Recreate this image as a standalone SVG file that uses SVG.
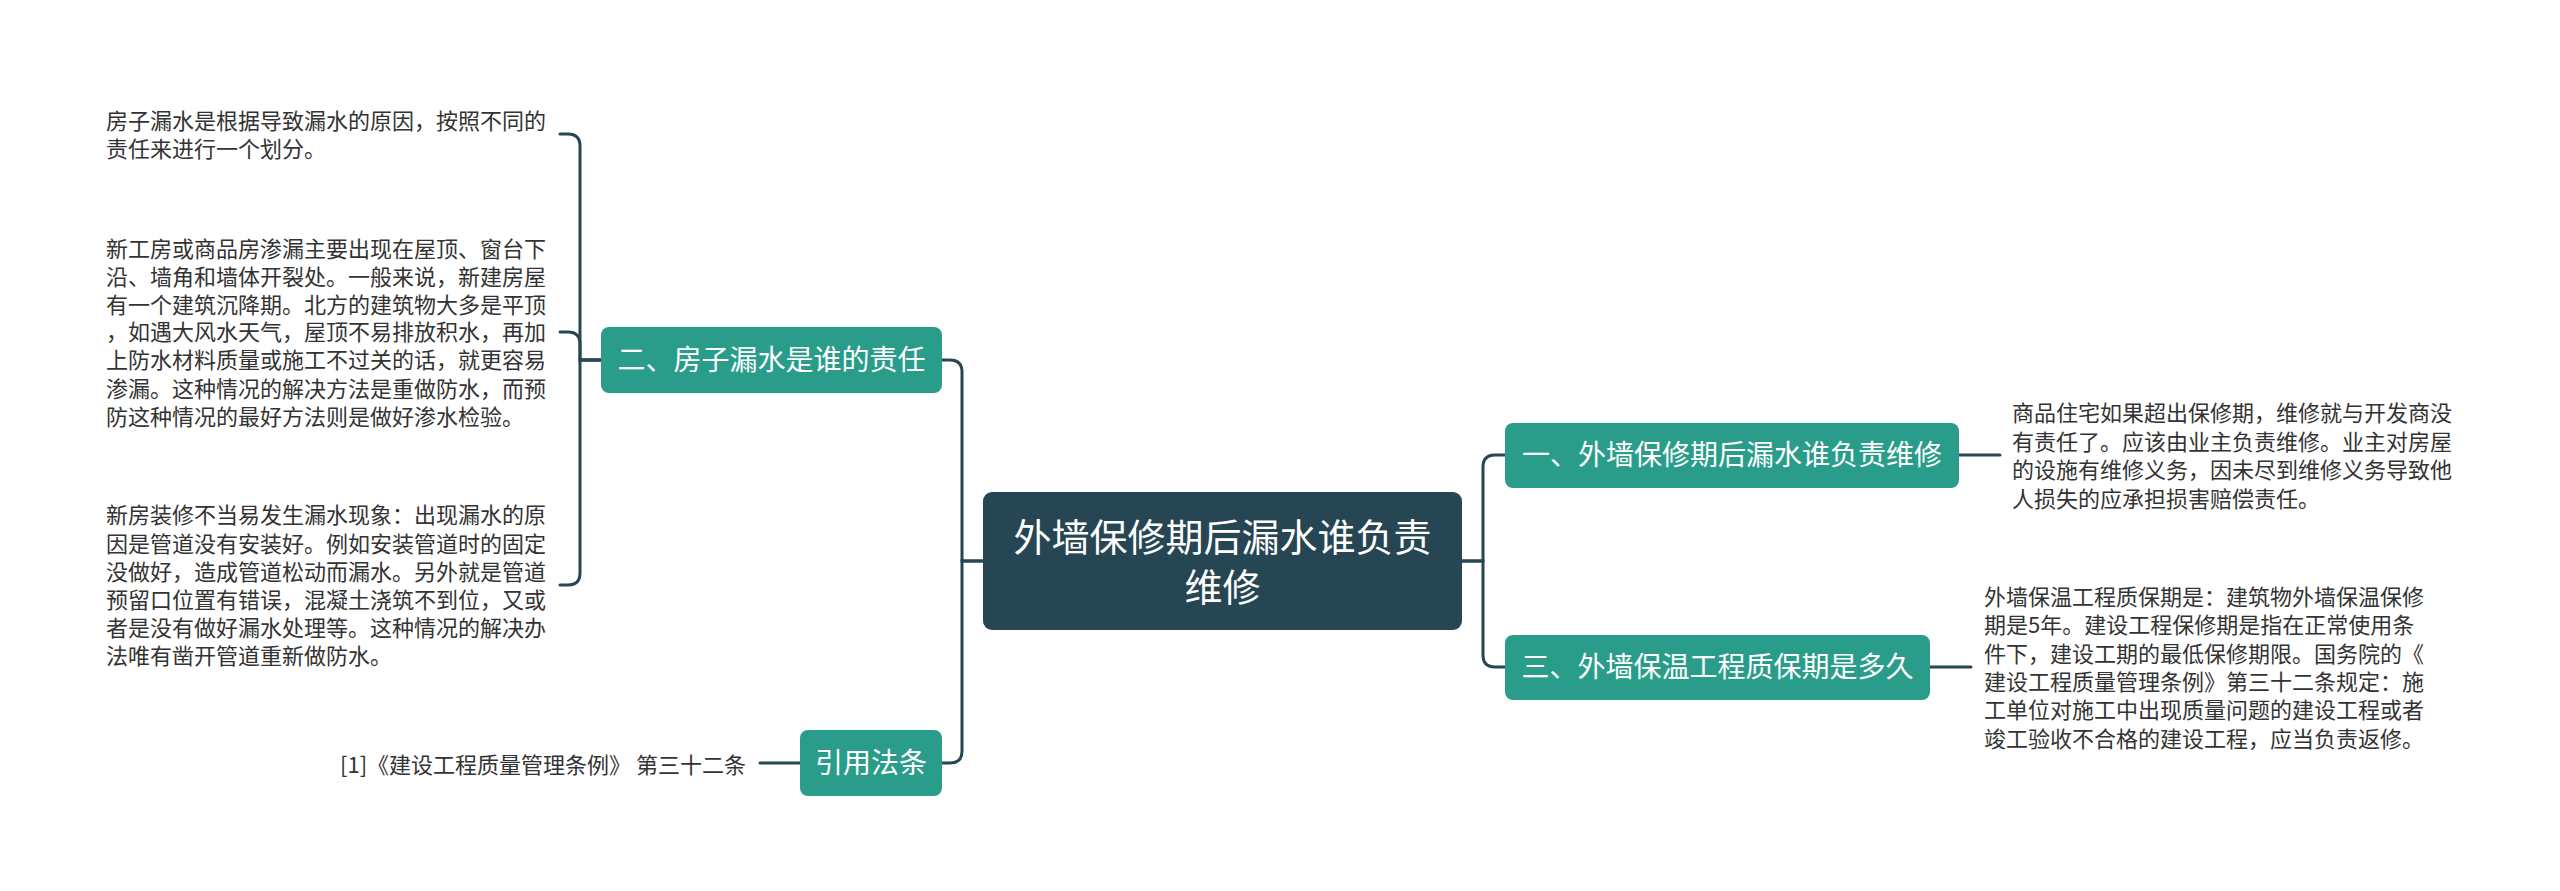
<svg xmlns="http://www.w3.org/2000/svg" width="2560" height="891" viewBox="0 0 2560 891">
<style>
.bg{fill:#ffffff}
.conn path{fill:none;stroke:#264653;stroke-width:3;stroke-linecap:round}
.topic{fill:#2a9d8a}
.root{fill:#264653}
.tt{font-family:"Noto Sans CJK SC","Noto Sans",sans-serif;fill:#ffffff}
.lt{font-family:"Noto Sans CJK SC","Noto Sans",sans-serif;fill:#333333;font-size:22px}
</style>
<rect class="bg" x="0" y="0" width="2560" height="891"/>
<g id="connectors" class="conn">
<path d="M983,561 H962 V372 Q962,360 950,360 H942"/>
<path d="M983,561 H962 V751 Q962,763 950,763 H942"/>
<path d="M1462,561 H1483 V467 Q1483,455 1495,455 H1505"/>
<path d="M1462,561 H1483 V655 Q1483,667 1495,667 H1505"/>
<path d="M1959,455 H2000"/>
<path d="M1930,667 H1971"/>
<path d="M601,360 H580 V146 Q580,134 568,134 H560"/>
<path d="M601,360 H580 V344 Q580,332 568,332 H560"/>
<path d="M601,360 H580 V573 Q580,585 568,585 H560"/>
<path d="M800,763 H760"/>
</g>
<g id="root">
<rect class="root" x="983" y="492" width="479" height="138" rx="9"/>
<text class="tt" font-size="38" text-anchor="middle" x="1222.5" y="551">外墙保修期后漏水谁负责</text>
<text class="tt" font-size="38" text-anchor="middle" x="1222.5" y="601">维修</text>
</g>
<g id="topic1">
<rect class="topic" x="1505" y="423" width="454" height="65" rx="8"/>
<text class="tt" font-size="28" text-anchor="middle" x="1732" y="465">一、外墙保修期后漏水谁负责维修</text>
</g>
<g id="topic3">
<rect class="topic" x="1505" y="635" width="425" height="65" rx="8"/>
<text class="tt" font-size="28" text-anchor="middle" x="1717.5" y="677">三、外墙保温工程质保期是多久</text>
</g>
<g id="topic2">
<rect class="topic" x="601" y="327" width="341" height="66" rx="8"/>
<text class="tt" font-size="28" text-anchor="middle" x="771.5" y="370">二、房子漏水是谁的责任</text>
</g>
<g id="topic4">
<rect class="topic" x="800" y="730" width="142" height="66" rx="8"/>
<text class="tt" font-size="28" text-anchor="middle" x="871" y="773">引用法条</text>
</g>
<g id="leaf1">
<text class="lt" x="2012" y="421">商品住宅如果超出保修期，维修就与开发商没</text>
<text class="lt" x="2012" y="449.5">有责任了。应该由业主负责维修。业主对房屋</text>
<text class="lt" x="2012" y="478">的设施有维修义务，因未尽到维修义务导致他</text>
<text class="lt" x="2012" y="506.5">人损失的应承担损害赔偿责任。</text>
</g>
<g id="leaf3">
<text class="lt" x="1984" y="604.5">外墙保温工程质保期是：建筑物外墙保温保修</text>
<text class="lt" x="1984" y="633">期是5年。建设工程保修期是指在正常使用条</text>
<text class="lt" x="1984" y="661.5">件下，建设工期的最低保修期限。国务院的《</text>
<text class="lt" x="1984" y="690">建设工程质量管理条例》第三十二条规定：施</text>
<text class="lt" x="1984" y="718">工单位对施工中出现质量问题的建设工程或者</text>
<text class="lt" x="1984" y="746.5">竣工验收不合格的建设工程，应当负责返修。</text>
</g>
<g id="leaf2a">
<text class="lt" x="106" y="128.5">房子漏水是根据导致漏水的原因，按照不同的</text>
<text class="lt" x="106" y="157">责任来进行一个划分。</text>
</g>
<g id="leaf2b">
<text class="lt" x="106" y="257">新工房或商品房渗漏主要出现在屋顶、窗台下</text>
<text class="lt" x="106" y="285">沿、墙角和墙体开裂处。一般来说，新建房屋</text>
<text class="lt" x="106" y="312.5">有一个建筑沉降期。北方的建筑物大多是平顶</text>
<text class="lt" x="106" y="340">，如遇大风水天气，屋顶不易排放积水，再加</text>
<text class="lt" x="106" y="368">上防水材料质量或施工不过关的话，就更容易</text>
<text class="lt" x="106" y="396.5">渗漏。这种情况的解决方法是重做防水，而预</text>
<text class="lt" x="106" y="425">防这种情况的最好方法则是做好渗水检验。</text>
</g>
<g id="leaf2c">
<text class="lt" x="106" y="523">新房装修不当易发生漏水现象：出现漏水的原</text>
<text class="lt" x="106" y="551.5">因是管道没有安装好。例如安装管道时的固定</text>
<text class="lt" x="106" y="579.5">没做好，造成管道松动而漏水。另外就是管道</text>
<text class="lt" x="106" y="608">预留口位置有错误，混凝土浇筑不到位，又或</text>
<text class="lt" x="106" y="636">者是没有做好漏水处理等。这种情况的解决办</text>
<text class="lt" x="106" y="664">法唯有凿开管道重新做防水。</text>
</g>
<g id="leaf4">
<text class="lt" x="746" y="773" text-anchor="end">[1]《建设工程质量管理条例》 第三十二条</text>
</g>
</svg>
